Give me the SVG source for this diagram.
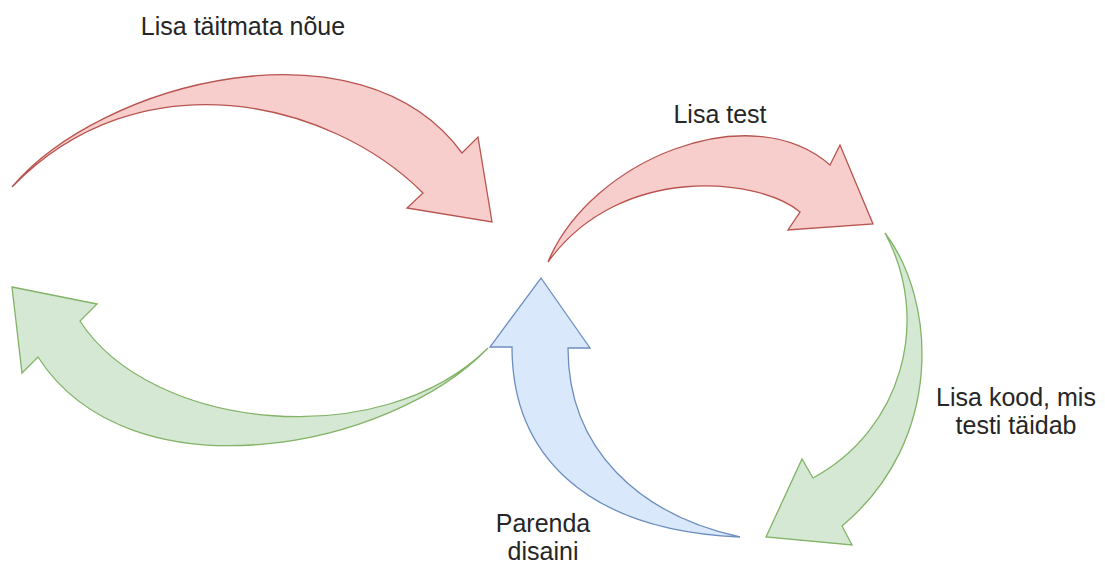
<svg xmlns="http://www.w3.org/2000/svg" width="1105" height="563" viewBox="0 0 1105 563">
  <style>
    .red { fill: #f8cecc; stroke: #b85450; stroke-width: 1.3; stroke-linejoin: miter; }
    .green { fill: #d5e8d4; stroke: #82b366; stroke-width: 1.3; stroke-linejoin: miter; }
    .blue { fill: #dae8fc; stroke: #6c8ebf; stroke-width: 1.3; stroke-linejoin: miter; }
    .label { font-family: "Liberation Sans", Arial, sans-serif; font-size: 25px; fill: #262626; text-anchor: middle; }
  </style>
  <rect width="1105" height="563" fill="#ffffff"/>

  <!-- curved arrows forming the cycle -->
  <g id="connectors">
    <!-- top left: red arrow -->
    <path id="arrow-requirement" class="red"
          d="M12,187 C100,82 360,14 462,153 L478,137 L492,222 L407,208 L423,193 C330,100 140,55 12,187 Z"/>
    <!-- bottom left: green arrow -->
    <path id="arrow-back" class="green"
          d="M12,287 L97,304 L80,321 C150,430 380,455 488,348 C390,450 130,500 38,357 L22,373 Z"/>
    <!-- top right: red arrow -->
    <path id="arrow-test" class="red"
          d="M548,262 C590,160 750,95 830,165 L840,145 L873,224 L788,230 L800,212 C760,178 620,162 548,262 Z"/>
    <!-- right: green arrow -->
    <path id="arrow-code" class="green"
          d="M885,233 C936,300 945,440 842,526 L852,545 L766,537 L802,459 L813,478 C902,430 932,320 885,233 Z"/>
    <!-- bottom: blue arrow -->
    <path id="arrow-refactor" class="blue"
          d="M740,537 C580,530 512,450 512,347 L490,347 L541,278 L590,348 L568,348 C568,450 640,515 740,537 Z"/>
  </g>

  <g id="label-requirement">
    <text class="label" x="243" y="35">Lisa täitmata nõue</text>
  </g>
  <g id="label-test">
    <text class="label" x="720" y="123">Lisa test</text>
  </g>
  <g id="label-code">
    <text class="label" x="1016" y="406">Lisa kood, mis</text>
    <text class="label" x="1016" y="434">testi täidab</text>
  </g>
  <g id="label-refactor">
    <text class="label" x="543" y="532">Parenda</text>
    <text class="label" x="543" y="560">disaini</text>
  </g>
</svg>
